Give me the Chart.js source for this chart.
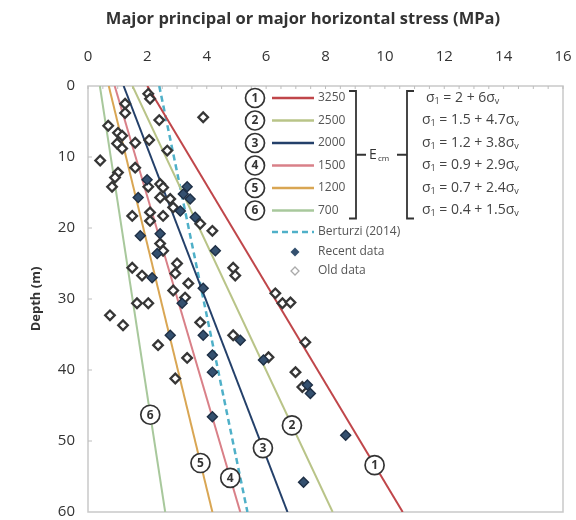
<!DOCTYPE html>
<html lang="en">
<head>
<meta charset="UTF-8">
<title>Major principal stress vs depth</title>
<script src="https://cdn.jsdelivr.net/npm/chart.js"></script>
<style>
  html, body { margin: 0; padding: 0; background: #fff; overflow: hidden; }
  canvas { display: block; }
</style>
</head>
<body>
<canvas id="chart" width="576" height="520"></canvas>
<script>
// Ecm lines (values read at the surface and at 60 m depth)
const tags = ['1', '2', '3', '4', '5', '6'];
const modulus = ['3250', '2500', '2000', '1500', '1200', '700'];
const eqA = ['2', '1.5', '1.2', '0.9', '0.7', '0.4'];
const eqB = ['6', '4.7', '3.8', '2.9', '2.4', '1.5'];
const lineDepth = [0, 60];
const lineTop = [2, 1.5, 1.2, 0.9, 0.7, 0.4];
const lineBottom = [10.6, 8.24, 6.72, 5.13, 4.19, 2.6];
const tagDepth = [53.4, 47.8, 51.0, 55.2, 53.1, 46.3];
const berturzi = [2.4, 5.37];

const recentX = [1.99, 3.34, 3.21, 3.44, 1.69, 3.11, 3.61, 1.76, 2.43, 2.33, 4.29, 2.16, 3.88,
                 3.17, 2.77, 3.88, 5.13, 4.19, 4.19, 5.91, 7.39, 7.49, 4.19, 8.68, 7.26];
const recentY = [13.2, 14.2, 15.2, 15.9, 15.7, 17.6, 18.5, 21.1, 20.8, 23.6, 23.2, 27.0, 28.5,
                 30.6, 35.1, 35.1, 35.8, 37.9, 40.3, 38.6, 42.1, 43.3, 46.6, 49.2, 55.8];

const oldX = [2.03, 2.09, 1.25, 1.25, 3.88, 2.40, 0.68, 1.01, 1.15, 0.98, 1.15, 1.59, 2.06, 2.67,
              0.41, 1.59, 1.01, 0.91, 0.81, 2.03, 2.43, 2.53, 2.43, 2.77, 2.87, 1.49, 2.09, 2.09,
              2.53, 3.78, 4.19, 2.43, 2.53, 4.89, 4.96, 1.49, 1.82, 2.94, 3.00, 3.38, 2.87, 3.27,
              1.65, 2.03, 0.74, 1.18, 2.36, 3.78, 4.89, 6.31, 6.55, 6.82, 7.32, 3.34, 6.08, 6.99,
              2.94, 7.22];
const oldY = [1.1, 1.8, 2.5, 3.8, 4.4, 4.8, 5.6, 6.6, 7.0, 8.1, 8.8, 8.0, 7.6, 9.1,
              10.5, 11.5, 12.2, 12.9, 14.2, 14.2, 13.8, 14.3, 15.7, 15.9, 17.1, 18.3, 17.8, 19.0,
              18.3, 19.4, 20.4, 22.2, 23.2, 25.6, 26.7, 25.6, 26.7, 26.4, 25.0, 27.8, 28.8, 29.8,
              30.6, 30.6, 32.3, 33.7, 36.5, 33.3, 35.1, 29.2, 30.6, 30.5, 36.1, 38.3, 38.2, 40.3,
              41.2, 42.4];

const lineColors = ['#c0464a', '#b9c488', '#24406a', '#d98088', '#d9a653', '#a8c89c'];
const dashColor = '#4fb0c8';
const recentColor = '#34506f';
const FONT = '"Open Sans", "Liberation Sans", sans-serif';

function pts(xs, ys) {
  return xs.map((x, i) => ({ x: x, y: ys[i] }));
}

const datasets = [];
datasets.push({
  label: 'Recent data', data: pts(recentX, recentY), order: 0,
  pointStyle: 'rectRot', pointRadius: 5, backgroundColor: recentColor,
  borderColor: '#1e2f45', borderWidth: 1.4, showLine: false
});
datasets.push({
  label: 'Old data', data: pts(oldX, oldY), order: 0,
  pointStyle: 'rectRot', pointRadius: 4.8, backgroundColor: '#ffffff',
  borderColor: '#363636', borderWidth: 2.3, showLine: false
});
lineTop.forEach((v, i) => {
  datasets.push({
    label: modulus[i], data: pts([v, lineBottom[i]], lineDepth), order: 1,
    showLine: true, borderColor: lineColors[i], borderWidth: 2, pointRadius: 0
  });
});
datasets.push({
  label: 'Berturzi (2014)', data: pts(berturzi, lineDepth), order: 1,
  showLine: true, borderColor: dashColor, borderWidth: 2.5, borderDash: [6, 4], pointRadius: 0
});

function circleTag(ctx, x, y, t) {
  ctx.beginPath();
  ctx.arc(x, y, 9.5, 0, Math.PI * 2);
  ctx.fillStyle = '#fff';
  ctx.fill();
  ctx.lineWidth = 1.7;
  ctx.strokeStyle = '#333';
  ctx.stroke();
  ctx.fillStyle = '#333';
  ctx.font = 'bold 12px ' + FONT;
  ctx.textAlign = 'center';
  ctx.textBaseline = 'middle';
  ctx.fillText(t, x, y + 0.5);
}

// draws sigma_1 = a + b sigma_v with real subscripts
function equation(ctx, x, y, a, b) {
  const big = '14px ' + FONT, small = '9px ' + FONT;
  const parts = [['σ', big, 0], ['1', small, 3], [' = ' + a + ' + ' + b + 'σ', big, 0], ['v', small, 3]];
  ctx.textAlign = 'left';
  ctx.textBaseline = 'middle';
  let cx = x;
  parts.forEach(p => {
    ctx.font = p[1];
    ctx.fillText(p[0], cx, y + p[2]);
    cx += ctx.measureText(p[0]).width;
  });
}

const overlay = {
  id: 'overlay',
  beforeDatasetsDraw(chart) {
    const { ctx, chartArea: a, scales } = chart;
    ctx.save();
    ctx.strokeStyle = '#c9c9c9';
    ctx.lineWidth = 1.5;
    ctx.strokeRect(a.left, a.top, a.right - a.left, a.bottom - a.top);
    ctx.lineWidth = 1;
    ctx.strokeStyle = '#bdbdbd';
    for (let v = 0; v <= 16; v += 0.5) {
      const px = scales.x.getPixelForValue(v);
      ctx.beginPath();
      ctx.moveTo(px, a.top);
      ctx.lineTo(px, a.top + 3);
      ctx.stroke();
    }
    for (let d = 10; d < 60; d += 10) {
      const py = scales.y.getPixelForValue(d);
      ctx.beginPath();
      ctx.moveTo(a.left, py);
      ctx.lineTo(a.left + 4, py);
      ctx.stroke();
    }
    ctx.restore();
  },
  afterDatasetsDraw(chart) {
    const { ctx, scales } = chart;
    ctx.save();
    tagDepth.forEach((d, i) => {
      const v = lineTop[i] + (lineBottom[i] - lineTop[i]) * (d - lineDepth[0]) / (lineDepth[1] - lineDepth[0]);
      circleTag(ctx, scales.x.getPixelForValue(v), scales.y.getPixelForValue(d), tags[i]);
    });
    ctx.restore();
  },
  afterDraw(chart) {
    const { ctx } = chart;
    ctx.save();
    // axis title on top
    ctx.fillStyle = '#333';
    ctx.font = 'bold 16.5px ' + FONT;
    ctx.textAlign = 'center';
    ctx.textBaseline = 'middle';
    ctx.fillText('Major principal or major horizontal stress (MPa)', 303, 19);

    // legend
    const cx = 255, x0 = 272, x1 = 314, tx = 318, row0 = 98, step = 22.5;
    tags.forEach((t, i) => {
      const y = row0 + i * step;
      circleTag(ctx, cx, y, t);
      ctx.strokeStyle = lineColors[i];
      ctx.lineWidth = 2.5;
      ctx.beginPath(); ctx.moveTo(x0, y); ctx.lineTo(x1, y); ctx.stroke();
      ctx.fillStyle = '#555';
      ctx.font = '12px ' + FONT;
      ctx.textAlign = 'left';
      ctx.textBaseline = 'middle';
      ctx.fillText(modulus[i], tx, y);
    });
    let y = row0 + 6 * step - 1;
    ctx.strokeStyle = dashColor;
    ctx.lineWidth = 2.5;
    ctx.setLineDash([6, 4]);
    ctx.beginPath(); ctx.moveTo(x0, y); ctx.lineTo(x1, y); ctx.stroke();
    ctx.setLineDash([]);
    ctx.fillStyle = '#555';
    ctx.fillText('Berturzi (2014)', tx, y);
    y += 20;
    ctx.fillText('Recent data', tx, y);
    ctx.fillStyle = recentColor;
    ctx.beginPath();
    ctx.moveTo(295, y - 4.5); ctx.lineTo(299.5, y); ctx.lineTo(295, y + 4.5); ctx.lineTo(290.5, y);
    ctx.closePath(); ctx.fill();
    y += 19;
    ctx.fillStyle = '#555';
    ctx.fillText('Old data', tx, y);
    ctx.strokeStyle = '#aaa';
    ctx.lineWidth = 1.3;
    ctx.beginPath();
    ctx.moveTo(295, y - 4); ctx.lineTo(299, y); ctx.lineTo(295, y + 4); ctx.lineTo(291, y);
    ctx.closePath(); ctx.stroke();

    // brackets, Ecm and equations
    const top = row0 - 7, bot = row0 + 5 * step + 8, mid = (top + bot) / 2;
    ctx.strokeStyle = '#333';
    ctx.lineWidth = 1.8;
    ctx.beginPath();
    ctx.moveTo(349, top); ctx.lineTo(356, top); ctx.lineTo(356, bot); ctx.lineTo(349, bot);
    ctx.moveTo(356, mid); ctx.lineTo(366, mid);
    ctx.moveTo(397, mid); ctx.lineTo(407, mid);
    ctx.moveTo(414, top); ctx.lineTo(407, top); ctx.lineTo(407, bot); ctx.lineTo(414, bot);
    ctx.stroke();
    ctx.fillStyle = '#333';
    ctx.font = '14px ' + FONT;
    ctx.textAlign = 'left';
    ctx.fillText('E', 369, mid);
    ctx.font = '8px ' + FONT;
    ctx.fillText('cm', 378, mid + 4);
    ctx.fillStyle = '#444';
    eqA.forEach((v, i) => equation(ctx, i === 0 ? 426 : 422, row0 + i * step, v, eqB[i]));
    ctx.restore();
  }
};

new Chart(document.getElementById('chart'), {
  type: 'scatter',
  data: { datasets: datasets },
  options: {
    responsive: false,
    animation: false,
    layout: { padding: { left: 0, right: 13, top: 0, bottom: 8 } },
    plugins: { legend: { display: false }, tooltip: { enabled: false } },
    scales: {
      x: {
        type: 'linear', position: 'top', min: 0, max: 16,
        afterFit: s => { s.height = 86; s.paddingLeft = 0; s.paddingRight = 0; },
        grid: { display: false, drawTicks: false },
        border: { display: false },
        ticks: { stepSize: 2, padding: 20, color: '#333', font: { size: 15, family: FONT } }
      },
      y: {
        type: 'linear', reverse: true, min: 0, max: 60,
        afterFit: s => { s.width = 88; s.paddingTop = 0; s.paddingBottom = 0; },
        grid: { display: false, drawTicks: false },
        border: { display: false },
        ticks: { stepSize: 10, padding: 13, color: '#333', font: { size: 15, family: FONT } },
        title: { display: true, text: 'Depth (m)', color: '#333', padding: { top: 28, bottom: 0 },
                 font: { size: 13, weight: 'bold', family: FONT } }
      }
    }
  },
  plugins: [overlay]
});
</script>
</body>
</html>
